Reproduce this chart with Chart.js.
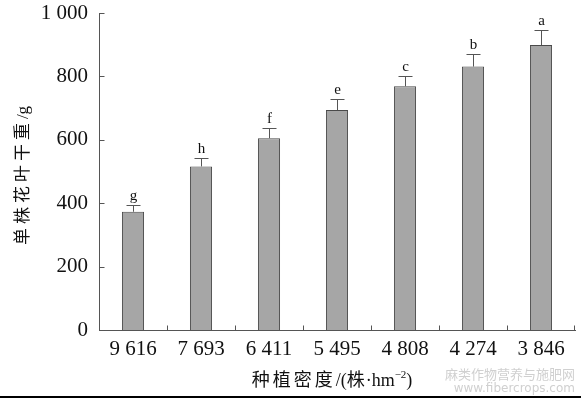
<!DOCTYPE html>
<html>
<head>
<meta charset="utf-8">
<script src="https://cdn.jsdelivr.net/npm/chart.js@4/dist/chart.umd.min.js"></script>
<style>
  html, body { margin: 0; padding: 0; background: #fff; }
  #wrap { width: 581px; height: 399px; }
</style>
</head>
<body>
<div id="wrap"><canvas id="densityChart" width="581" height="399"></canvas></div>
<script>
// planting density (plants/hm2)
var densities = ['9 616', '7 693', '6 411', '5 495', '4 808', '4 274', '3 846'];
// dry weight of flowers and leaves per plant (g)
var dryWeight = [373, 516, 605, 694, 769, 831, 899];
var errValues = [21, 28, 33, 35, 33, 40, 46];
var sigLetters = ['g', 'h', 'f', 'e', 'c', 'b', 'a'];

var serif = "'Liberation Serif', 'Times New Roman', serif";
var mixed = "'Liberation Serif', 'Noto Sans CJK SC', serif";
var axisColor = '#555';

function formatThousands(v) {
    return v >= 1000 ? Math.floor(v / 1000) + ' ' + String(v % 1000).padStart(3, '0') : String(v);
}

// text made of pieces, some raised as superscript; drawn centred on (0,0)
function drawPieces(ctx, pieces, size) {
    var widths = pieces.map(function (p) {
        ctx.font = (p.sup ? Math.round(size * 0.6) : size) + 'px ' + mixed;
        ctx.letterSpacing = p.sp ? p.sp + 'px' : '0px';
        return ctx.measureText(p.t).width;
    });
    var total = widths.reduce(function (a, b) { return a + b; }, 0);
    var cx = -total / 2;
    pieces.forEach(function (p, i) {
        ctx.font = (p.sup ? Math.round(size * 0.6) : size) + 'px ' + mixed;
        ctx.letterSpacing = p.sp ? p.sp + 'px' : '0px';
        ctx.textAlign = 'left';
        ctx.textBaseline = 'middle';
        ctx.fillText(p.t, cx, p.sup ? -size * 0.35 : 0);
        cx += widths[i];
    });
    ctx.letterSpacing = '0px';
}

// draws error bars, letters, inward ticks, axis titles and the frame line at the bottom
var extrasPlugin = {
    id: 'extras',
    afterDatasetsDraw: function (chart) {
        var ctx = chart.ctx;
        var x = chart.scales.x, y = chart.scales.y;
        var area = chart.chartArea;
        var meta = chart.getDatasetMeta(0);
        ctx.save();
        ctx.strokeStyle = axisColor;
        ctx.lineWidth = 1;
        meta.data.forEach(function (bar, i) {
            var top = Math.round(y.getPixelForValue(dryWeight[i] + errValues[i])) + 0.5;
            var cx = Math.round(bar.x) + 0.5;
            ctx.beginPath();
            ctx.moveTo(cx, bar.y);
            ctx.lineTo(cx, top);
            ctx.moveTo(cx - 7, top);
            ctx.lineTo(cx + 7, top);
            ctx.stroke();
            ctx.fillStyle = '#111';
            ctx.font = '15px ' + serif;
            ctx.textAlign = 'center';
            ctx.textBaseline = 'bottom';
            ctx.fillText(sigLetters[i], cx, top - 2);
        });
        // y ticks pointing inside
        var left = Math.round(area.left) + 0.5;
        y.ticks.forEach(function (t) {
            var py = Math.round(y.getPixelForValue(t.value)) + 0.5;
            ctx.beginPath();
            ctx.moveTo(left, py);
            ctx.lineTo(left + 5, py);
            ctx.stroke();
        });
        // x ticks between categories, pointing up
        var bottom = Math.round(area.bottom) + 0.5;
        for (var k = 1; k <= densities.length; k++) {
            var px = Math.round((x.getPixelForValue(k - 1) + x.getPixelForValue(k)) / 2) + 0.5;
            if (k === densities.length) px = Math.round(area.right) - 0.5;
            ctx.beginPath();
            ctx.moveTo(px, bottom);
            ctx.lineTo(px, bottom - 5);
            ctx.stroke();
        }
        // axis titles
        ctx.fillStyle = '#111';
        ctx.save();
        ctx.translate(24, (area.top + area.bottom) / 2 + 4);
        ctx.rotate(-Math.PI / 2);
        drawPieces(ctx, [{ t: '单株花叶干重', sp: 4 }, { t: '/g' }], 17);
        ctx.restore();
        ctx.save();
        ctx.translate((area.left + area.right) / 2 - 5, area.bottom + 51);
        drawPieces(ctx, [{ t: '种植密度', sp: 3 }, { t: '/(' }, { t: '株', sp: 1 }, { t: '·hm' }, { t: '−2', sup: true }, { t: ')' }], 18);
        ctx.restore();
        // watermark
        ctx.fillStyle = '#d0d0d0';
        ctx.textAlign = 'right';
        ctx.textBaseline = 'alphabetic';
        ctx.font = "13px 'Noto Sans CJK SC', sans-serif";
        ctx.fillText('麻类作物营养与施肥网', chart.width - 6, 379);
        ctx.font = "12px 'DejaVu Sans', sans-serif";
        ctx.fillText('www.fibercrops.com', chart.width - 6, 392);
        // frame line at the bottom edge
        ctx.fillStyle = '#000';
        ctx.fillRect(0, 396, chart.width, 2);
        ctx.restore();
    }
};

var ctx = document.getElementById('densityChart').getContext('2d');
var myChart = new Chart(ctx, {
    type: 'bar',
    data: {
        labels: densities,
        datasets: [{
            label: '单株花叶干重',
            data: dryWeight,
            backgroundColor: '#a6a6a6',
            borderColor: '#4a4a4a',
            borderWidth: 1,
            barPercentage: 0.65,
            categoryPercentage: 0.5
        }]
    },
    options: {
        responsive: false,
        animation: false,
        devicePixelRatio: 1,
        layout: { autoPadding: false, padding: { top: 13, right: 6, left: 0, bottom: 0 } },
        plugins: {
            legend: { display: false },
            tooltip: { enabled: false }
        },
        scales: {
            x: {
                grid: { display: false, drawTicks: false },
                border: { display: true, color: axisColor, width: 1 },
                ticks: {
                    color: '#111',
                    font: { family: serif, size: 21 },
                    padding: 7
                },
                afterFit: function (s) {
                    s.height = 69;
                    s.paddingLeft = 0;
                    s.paddingRight = 0;
                }
            },
            y: {
                min: 0,
                max: 1000,
                grid: { display: false, drawTicks: false },
                border: { display: true, color: axisColor, width: 1 },
                ticks: {
                    stepSize: 200,
                    color: '#111',
                    font: { family: serif, size: 21 },
                    padding: 11,
                    callback: function (v) { return formatThousands(v); }
                },
                afterFit: function (s) {
                    s.width = 99;
                    s.paddingTop = 0;
                    s.paddingBottom = 0;
                }
            }
        }
    },
    plugins: [extrasPlugin]
});
</script>
</body>
</html>
